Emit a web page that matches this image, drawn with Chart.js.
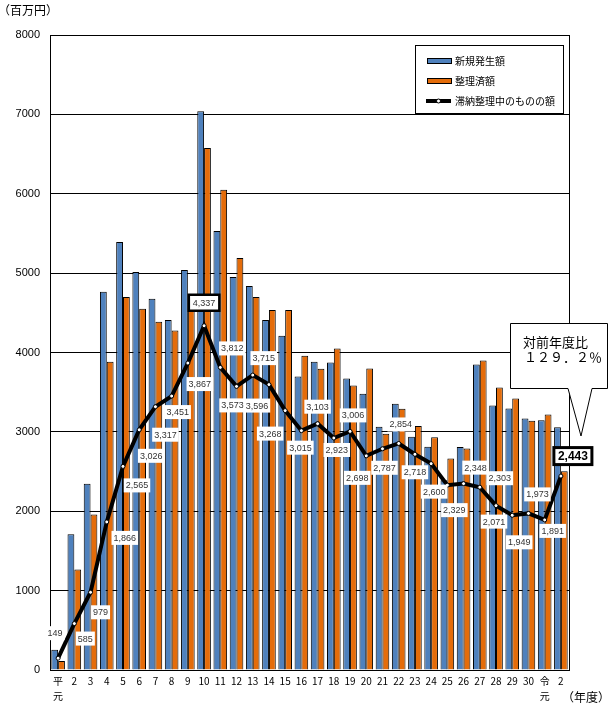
<!DOCTYPE html>
<html>
<head>
<meta charset="utf-8">
<script src="https://cdn.jsdelivr.net/npm/chart.js@4/dist/chart.umd.min.js"></script>
<style>
  body { margin: 0; background: #fff; }
  canvas { display: block; }
</style>
</head>
<body>
<canvas id="taino" width="609" height="705"></canvas>
<script>
const FONT = "'Noto Sans CJK JP', 'DejaVu Sans', sans-serif";
const NUMFONT = "'Liberation Sans', 'DejaVu Sans', sans-serif";

// 年度
const years = [['平', '元'], '2', '3', '4', '5', '6', '7', '8', '9', '10',
  '11', '12', '13', '14', '15', '16', '17', '18', '19', '20',
  '21', '22', '23', '24', '25', '26', '27', '28', '29', '30', ['令', '元'], '2'];

// 新規発生額
const newAmounts = [256, 1711, 2348, 4764, 5392, 5015, 4676, 4411, 5040, 7040,
  5531, 4952, 4839, 4411, 4210, 3698, 3883, 3874, 3673, 3480,
  3065, 3355, 2940, 2814, 2390, 2809, 3849, 3333, 3296, 3170, 3145, 3057];

// 整理済額
const settledAmounts = [113, 1267, 1958, 3883, 4700, 4550, 4386, 4277, 4625, 6575,
  6050, 5191, 4700, 4537, 4537, 3958, 3795, 4050, 3585, 3799,
  2977, 3292, 3073, 2931, 2663, 2792, 3899, 3560, 3421, 3141, 3220, 2503];

// 滞納整理中のものの額
const pendingAmounts = [149, 585, 979, 1866, 2565, 3026, 3317, 3451, 3867, 4337,
  3812, 3573, 3715, 3596, 3268, 3015, 3103, 2923, 3006, 2698,
  2787, 2854, 2718, 2600, 2329, 2348, 2303, 2071, 1949, 1973, 1891, 2443];

const yTicks = [0, 1000, 2000, 3000, 4000, 5000, 6000, 7000, 8000];

// label placement relative to the point (px)
const labelOffsets = [[-3, -25], [11, 15], [10, 20], [18, 16], [14, 19], [12, 26], [10, 28], [6, 16], [12, 21], [0, -23],
  [12, -19], [-4, 19], [11, -17], [-12, 21], [-15, 23], [-1, 17], [0, -17], [3, 12], [3, -16], [-9, 22],
  [2, 19], [2, -19], [0, 18], [3, 28], [7, 25], [12, -16], [20, -9], [-2, 16], [7, 27], [9, -19], [8, 11], [12, -20]];

const BLUE = '#4f81bd';
const ORANGE = '#e46c0a';

// value boxes on the line
const lineLabels = {
  id: 'lineLabels',
  afterDatasetsDraw(chart) {
    const ctx = chart.ctx;
    const meta = chart.getDatasetMeta(2);
    const vals = chart.data.datasets[2].data;
    ctx.save();
    ctx.textAlign = 'center';
    ctx.textBaseline = 'middle';
    meta.data.forEach((pt, i) => {
      const txt = vals[i].toLocaleString('en-US');
      const last = i === vals.length - 1;
      const peak = i === 9;
      ctx.font = last ? 'bold 12px ' + NUMFONT : '9px ' + NUMFONT;
      const w = ctx.measureText(txt).width + (last ? 8 : peak ? 8 : 4);
      const h = last ? 17 : peak ? 16 : 14;
      const cx = pt.x + labelOffsets[i][0];
      const cy = pt.y + labelOffsets[i][1];
      ctx.fillStyle = '#fff';
      ctx.fillRect(cx - w / 2, cy - h / 2, w, h);
      if (last || peak) {
        ctx.lineWidth = last ? 3 : 2.5;
        ctx.strokeStyle = '#000';
        ctx.strokeRect(cx - w / 2, cy - h / 2, w, h);
      }
      ctx.fillStyle = last ? '#000' : '#333';
      ctx.fillText(txt, cx, cy + 0.5);
    });
    ctx.restore();
  }
};

// frame, legend, unit texts and callout
const extras = {
  id: 'extras',
  beforeDatasetsDraw(chart) {
    const {ctx, chartArea: a} = chart;
    ctx.save();
    ctx.strokeStyle = '#000';
    ctx.lineWidth = 1;
    ctx.strokeRect(Math.round(a.left) + 0.5, Math.round(a.top) + 0.5, Math.round(a.right - a.left), Math.round(a.bottom - a.top));
    ctx.restore();
  },
  afterDraw(chart) {
    const ctx = chart.ctx;
    ctx.save();
    ctx.fillStyle = '#000';
    ctx.font = '12px ' + FONT;
    ctx.textBaseline = 'middle';
    ctx.textAlign = 'left';
    ctx.fillText('（百万円）', -2, 10);
    ctx.fillText('（年度）', 562, 697);

    // legend
    ctx.fillStyle = '#fff';
    ctx.fillRect(415, 45, 148, 68);
    ctx.strokeStyle = '#000';
    ctx.lineWidth = 1;
    ctx.strokeRect(415.5, 45.5, 148, 68);
    const ds = chart.data.datasets;
    const rows = [61, 81, 101];
    ctx.font = '10px ' + FONT;
    ds.forEach((d, i) => {
      const y = rows[i];
      if (d.type === 'line') {
        ctx.strokeStyle = '#000';
        ctx.lineWidth = 4;
        ctx.beginPath();
        ctx.moveTo(426, y);
        ctx.lineTo(451, y);
        ctx.stroke();
        ctx.fillStyle = '#fff';
        ctx.lineWidth = 1;
        ctx.beginPath();
        ctx.arc(438.5, y, 2, 0, Math.PI * 2);
        ctx.fill();
        ctx.stroke();
      } else {
        ctx.fillStyle = d.backgroundColor;
        ctx.fillRect(427, y - 2.5, 24, 5);
        ctx.strokeStyle = '#000';
        ctx.lineWidth = 1;
        ctx.strokeRect(427.5, y - 2.5, 24, 5);
      }
      ctx.fillStyle = '#000';
      ctx.fillText(d.label, 455, y);
    });

    // callout
    ctx.fillStyle = '#fff';
    ctx.strokeStyle = '#000';
    ctx.lineWidth = 1;
    ctx.beginPath();
    ctx.moveTo(510.5, 323.5);
    ctx.lineTo(607.5, 323.5);
    ctx.lineTo(607.5, 388.5);
    ctx.lineTo(592, 388.5);
    ctx.lineTo(581, 436);
    ctx.lineTo(568, 388.5);
    ctx.lineTo(510.5, 388.5);
    ctx.closePath();
    ctx.fill();
    ctx.stroke();
    ctx.fillStyle = '#000';
    ctx.font = '13px ' + FONT;
    ctx.fillText('対前年度比', 523, 342);
    ctx.fillText('１２９．２％', 524, 357);
    ctx.restore();
  }
};

const ctxTaino = document.getElementById('taino');
const taino = {
  type: 'bar',
  data: {
    labels: years,
    datasets: [
      {
        label: '新規発生額',
        data: newAmounts,
        backgroundColor: BLUE,
        borderColor: '#000',
        borderWidth: 1,
        categoryPercentage: 0.84,
        barPercentage: 1,
        order: 2,
      },
      {
        label: '整理済額',
        data: settledAmounts,
        backgroundColor: ORANGE,
        borderColor: '#000',
        borderWidth: 1,
        categoryPercentage: 0.84,
        barPercentage: 1,
        order: 2,
      },
      {
        type: 'line',
        label: '滞納整理中のものの額',
        data: pendingAmounts,
        borderColor: '#000',
        borderWidth: 4,
        pointRadius: 2,
        pointBackgroundColor: '#fff',
        pointBorderColor: '#000',
        pointBorderWidth: 1,
        tension: 0,
        order: 0,
      },
    ],
  },
  plugins: [extras, lineLabels],
  options: {
    responsive: false,
    animation: false,
    layout: { padding: { top: 35, right: 40, left: 0, bottom: 0 } },
    plugins: {
      legend: { display: false },
      tooltip: { enabled: false },
    },
    scales: {
      x: {
        grid: { display: false, drawTicks: false },
        border: { display: true, color: '#000' },
        ticks: {
          color: '#000',
          font: { family: FONT, size: 10, lineHeight: 1.5 },
          padding: 4,
          maxRotation: 0,
          autoSkip: false,
        },
        afterFit(s) { s.height = 35; },
      },
      y: {
        min: 0,
        max: 8000,
        afterBuildTicks(s) { s.ticks = yTicks.map(v => ({ value: v })); },
        ticks: {
          color: '#000',
          font: { family: NUMFONT, size: 11 },
          padding: 10,
          callback: v => String(v),
        },
        grid: { color: '#000', lineWidth: 1, drawTicks: false },
        border: { display: true, color: '#000' },
        afterFit(s) { s.width = 50; },
      },
    },
  },
};
window.myTaino = new Chart(ctxTaino, taino);
</script>
</body>
</html>
